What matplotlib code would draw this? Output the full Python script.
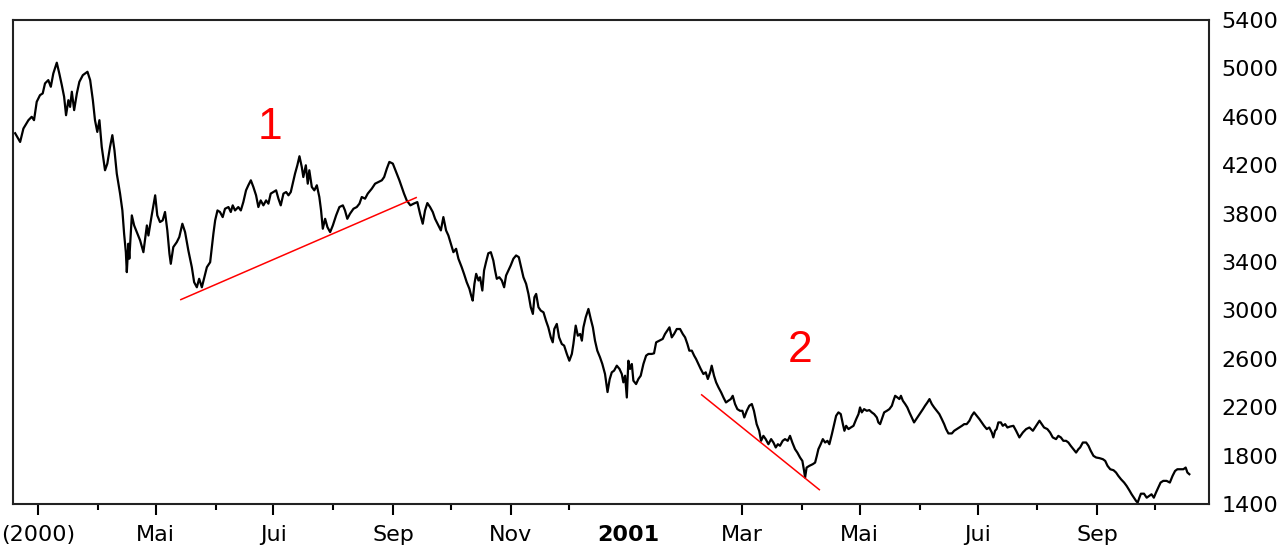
import matplotlib.pyplot as plt
import pandas as pd

# index closes, x = days since 2000-03-01
days_a = [-11.9, -9.3, -7.6, -5.0, -3.3, -2.1, -0.7, 1.0, 2.4, 3.6,
          5.3, 6.6, 7.9, 9.7, 11.0, 12.3, 13.5, 14.5, 15.7, 16.6,
          17.5, 18.7, 20.1, 21.4, 23.2, 25.6, 27.0, 28.4, 29.5, 30.7,
          31.8, 33.0, 34.7, 35.9, 37.3, 38.5, 39.6, 40.8, 42.5, 43.7,
          44.6, 45.5, 46.0, 46.8, 47.3, 48.6, 49.8, 51.2, 52.9, 54.6,
          56.4, 57.2, 58.9, 60.7, 61.8, 63.2, 64.6, 65.8, 67.0, 68.1,
          68.8, 70.1, 71.9, 73.2, 74.8, 76.2, 77.9, 79.7, 80.9, 82.3,
          83.5, 84.9, 86.2, 87.5, 89.2, 90.9, 91.8, 93.0]
close_a = [4464, 4392, 4503, 4572, 4600, 4572, 4724, 4779, 4793, 4876,
           4903, 4848, 4958, 5047, 4958, 4862, 4765, 4613, 4737, 4682,
           4807, 4655, 4793, 4889, 4944, 4972, 4903, 4737, 4572, 4475,
           4572, 4351, 4158, 4213, 4351, 4448, 4323, 4130, 3965, 3826,
           3633, 3481, 3316, 3551, 3427, 3785, 3702, 3647, 3578, 3481,
           3702, 3619, 3785, 3951, 3785, 3730, 3744, 3813, 3661, 3468,
           3385, 3523, 3564, 3606, 3716, 3647, 3495, 3357, 3233, 3191,
           3261, 3191, 3274, 3357, 3398, 3636, 3744, 3826]

days_b = [94.3, 95.7, 96.9, 98.7, 99.9, 100.9, 102.1, 103.8, 105.1, 106.4,
          107.8, 109.0, 110.3, 111.6, 113.0, 114.2, 115.4, 116.8, 118.2, 119.4,
          120.6, 122.0, 123.4, 124.6, 125.8, 127.2, 128.6, 129.8, 131.0, 132.0,
          133.2, 134.4, 135.5, 136.7, 137.5, 138.8, 139.8, 140.6, 141.9, 143.2,
          144.5, 145.8, 146.7, 147.6, 148.8, 150.0, 151.4, 152.8, 154.5, 156.2,
          158.0, 159.1, 160.3, 161.7, 163.5, 165.2, 166.6, 167.8, 169.5, 170.9,
          173.0, 174.7, 176.4, 178.2, 179.4, 180.8, 182.1, 183.9, 185.6, 187.3,
          188.5, 189.7, 191.1]
close_b = [3813, 3771, 3840, 3854, 3813, 3868, 3826, 3854, 3826, 3895,
           3992, 4034, 4075, 4020, 3951, 3854, 3909, 3868, 3909, 3882,
           3965, 3978, 3992, 3923, 3868, 3965, 3978, 3951, 3978, 4047,
           4130, 4199, 4274, 4185, 4102, 4199, 4047, 4158, 4020, 3992,
           4034, 3937, 3826, 3675, 3757, 3688, 3647, 3702, 3785, 3854,
           3868, 3826, 3757, 3799, 3840, 3854, 3882, 3937, 3923, 3965,
           4006, 4047, 4061, 4075, 4102, 4172, 4227, 4213, 4144, 4075,
           4020, 3965, 3909]

days_c = [193.0, 194.7, 196.6, 198.0, 199.4, 200.6, 201.8, 203.2, 204.6, 205.8,
          207.5, 208.8, 210.1, 211.5, 212.7, 214.0, 215.3, 216.7, 217.9, 219.6,
          220.8, 222.2, 223.6, 224.5, 225.3, 226.2, 227.1, 228.3, 229.1, 230.3,
          231.2, 232.2, 233.4, 234.7, 236.0, 236.9, 237.8, 239.1, 240.4, 241.6,
          242.6, 243.8, 245.0, 246.4, 247.8, 249.2, 250.4, 251.6, 253.0, 254.2,
          255.4, 256.5, 257.3, 258.2, 259.4, 260.6, 262.0, 263.3, 264.5, 265.8,
          266.8, 267.6, 268.9, 270.1, 271.5, 272.7, 274.1, 275.4, 276.7, 277.5,
          278.7, 279.8, 281.0, 281.9, 282.7, 283.9, 285.3, 286.5, 287.6, 288.7,
          289.9, 291.3, 292.5, 293.9, 295.2, 296.3]
close_c = [3868, 3882, 3895, 3799, 3716, 3826, 3887, 3854, 3813, 3757,
           3702, 3661, 3771, 3661, 3619, 3551, 3481, 3509, 3427, 3357,
           3302, 3233, 3178, 3123, 3081, 3219, 3302, 3247, 3274, 3164,
           3330, 3398, 3472, 3481, 3412, 3330, 3261, 3274, 3247, 3191,
           3288, 3330, 3371, 3427, 3454, 3440, 3357, 3274, 3219, 3136,
           3026, 2971, 3109, 3136, 3026, 2998, 2984, 2915, 2860, 2777,
           2736, 2846, 2888, 2777, 2722, 2709, 2640, 2584, 2640, 2722,
           2874, 2791, 2805, 2750, 2860, 2943, 3012, 2929, 2860, 2750,
           2667, 2612, 2557, 2474, 2325, 2430]

days_d = [297.4, 298.6, 300.0, 301.4, 302.6, 303.4, 304.3, 305.2, 306.0, 306.9,
          307.8, 308.6, 310.0, 311.2, 312.4, 313.8, 315.2, 316.4, 318.1, 319.3,
          320.4, 322.1, 323.8, 325.0, 326.2, 327.3, 328.5, 329.7, 331.1, 332.8,
          334.2, 335.4, 336.6, 337.6, 338.9, 340.1, 341.1, 342.3, 343.5, 344.9,
          346.1, 347.2, 348.4, 349.2, 350.4, 351.5, 352.7, 354.1, 355.3, 356.6,
          357.8, 359.1, 360.1, 361.3, 362.5, 363.9, 365.1, 366.1, 367.4, 368.7,
          370.0, 371.1, 372.5, 373.8, 374.8, 376.0, 377.2, 378.6, 380.0, 381.2,
          382.4, 383.5, 384.6, 386.0, 387.2, 388.6, 389.8, 391.0, 392.4, 393.6,
          395.0, 396.2, 397.1, 397.6, 398.4, 399.8]
close_d = [2488, 2502, 2543, 2516, 2474, 2405, 2460, 2280, 2584, 2516,
           2557, 2419, 2391, 2433, 2460, 2557, 2626, 2640, 2640, 2645,
           2736, 2750, 2764, 2805, 2833, 2860, 2777, 2805, 2846, 2846,
           2805, 2777, 2722, 2667, 2667, 2626, 2598, 2557, 2516, 2474,
           2488, 2433, 2488, 2543, 2460, 2405, 2364, 2322, 2280, 2239,
           2253, 2267, 2294, 2226, 2184, 2170, 2170, 2115, 2170, 2212,
           2226, 2170, 2060, 2005, 1922, 1963, 1936, 1894, 1936, 1908,
           1867, 1894, 1881, 1922, 1936, 1922, 1963, 1908, 1853, 1825,
           1784, 1756, 1673, 1618, 1701, 1715]

days_e = [401.6, 402.8, 403.7, 404.5, 405.7, 406.8, 408.0, 409.2, 410.2, 411.5,
          412.7, 413.7, 414.9, 416.1, 417.2, 418.0, 418.9, 420.1, 421.3, 422.7,
          424.1, 425.3, 426.1, 427.0, 428.2, 429.6, 430.9, 432.2, 433.4, 434.8,
          435.6, 436.5, 437.4, 438.6, 440.0, 441.3, 442.6, 443.4, 444.3, 445.5,
          446.5, 447.3, 448.3, 449.5, 450.6, 451.7, 452.9, 454.1, 455.2, 456.4,
          457.6, 458.7, 459.8, 461.0, 462.1, 463.3, 464.5, 465.9, 467.2, 468.5,
          469.7, 470.7, 471.9, 473.7, 474.9, 476.3, 477.6, 478.9, 480.1, 481.4,
          482.8, 484.0, 485.2, 486.6, 488.0, 489.2, 490.4, 491.8, 493.1, 494.4,
          495.2, 496.1, 496.9, 497.8, 499.1, 500.1, 501.3, 502.5, 503.9]
close_e = [1729, 1742, 1798, 1853, 1894, 1936, 1908, 1922, 1894, 1977,
           2060, 2129, 2157, 2143, 2060, 2005, 2046, 2019, 2032, 2046,
           2101, 2143, 2198, 2157, 2184, 2170, 2176, 2157, 2143, 2115,
           2074, 2060, 2101, 2157, 2170, 2184, 2212, 2253, 2294, 2280,
           2267, 2294, 2253, 2226, 2198, 2157, 2115, 2074, 2101, 2129,
           2157, 2184, 2212, 2239, 2267, 2226, 2198, 2170, 2143, 2101,
           2060, 2019, 1983, 1983, 2005, 2019, 2032, 2046, 2060, 2060,
           2088, 2129, 2157, 2129, 2101, 2074, 2046, 2019, 2032, 1991,
           1950, 2005, 2019, 2074, 2074, 2046, 2060, 2032, 2040]

days_f = [505.6, 507.0, 508.7, 510.5, 512.2, 513.9, 515.7, 517.4, 519.1, 520.3,
          521.5, 523.2, 524.6, 526.0, 527.7, 528.9, 530.2, 531.5, 532.9, 534.1,
          535.3, 536.7, 538.1, 539.3, 540.2, 541.6, 543.3, 544.5, 545.7, 547.1,
          548.5, 550.2, 552.0, 553.2, 554.4, 555.8, 557.5, 558.8, 560.0, 561.4,
          563.0, 564.3, 565.7, 566.9, 568.1, 569.2, 570.0, 570.9, 571.7, 573.3,
          574.7, 576.0, 577.2, 578.4, 579.5, 580.7, 581.9, 583.3, 585.0, 586.7,
          588.1, 589.4, 590.6, 592.3, 593.7, 594.9, 595.8, 596.8]
close_f = [2046, 2005, 1950, 1991, 2019, 2032, 2005, 2046, 2088, 2060,
           2032, 2019, 1991, 1950, 1936, 1963, 1950, 1922, 1922, 1908,
           1881, 1853, 1825, 1853, 1867, 1908, 1908, 1881, 1839, 1798,
           1784, 1779, 1770, 1756, 1715, 1687, 1679, 1660, 1632, 1604,
           1577, 1549, 1513, 1480, 1452, 1425, 1411, 1452, 1485, 1485,
           1452, 1466, 1480, 1452, 1494, 1535, 1577, 1591, 1591, 1577,
           1632, 1673, 1687, 1687, 1687, 1701, 1660, 1646]

major_dates = ['2000-03-01', '2000-05-01', '2000-07-01', '2000-09-01', '2000-11-01',
               '2001-01-01', '2001-03-01', '2001-05-01', '2001-07-01', '2001-09-01']
major_labels = ['(2000)', 'Mai', 'Jui', 'Sep', 'Nov', '2001', 'Mar', 'Mai', 'Jui', 'Sep']
minor_dates = ['2000-04-01', '2000-06-01', '2000-08-01', '2000-10-01', '2000-12-01',
               '2001-04-01', '2001-06-01', '2001-08-01', '2001-10-01']

# red support / trend lines
trend1_dates = ['2000-05-14', '2000-09-13']
trend1_vals = [3089, 3932]
trend2_dates = ['2001-02-08', '2001-04-10']
trend2_vals = [2302, 1518]

base = pd.Timestamp('2000-03-01')


def to_days(dates):
    return [(pd.Timestamp(s) - base).days for s in dates]


days = days_a + days_b + days_c + days_d + days_e + days_f
close = close_a + close_b + close_c + close_d + close_e + close_f

fig = plt.figure(figsize=(12.87, 5.52), dpi=100)
ax = fig.add_axes([0.0101, 0.0870, 0.9293, 0.8768])

ax.plot(days, close, color='black', lw=1.6)
ax.plot(to_days(trend1_dates), trend1_vals, color='#ff0000', lw=1.1)
ax.plot(to_days(trend2_dates), trend2_vals, color='#ff0000', lw=1.1)

ax.text(to_days(['2000-06-29'])[0], 4510, '1', color='#ff0000', fontsize=32,
        family='Liberation Sans', ha='center', va='center')
ax.text(to_days(['2001-03-31'])[0], 2665, '2', color='#ff0000', fontsize=32,
        family='Liberation Sans', ha='center', va='center')

ax.set_xlim(-13, 607)
ax.set_ylim(1400, 5400)

ax.set_xticks(to_days(major_dates))
ax.set_xticklabels(major_labels)
ax.set_xticks(to_days(minor_dates), minor=True)
ax.tick_params(axis='x', which='major', direction='out', length=8, width=1.5,
               labelsize=16, pad=7)
ax.tick_params(axis='x', which='minor', direction='out', length=4, width=1.5)
for lab in ax.get_xticklabels():
    if lab.get_text() == '2001':
        lab.set_fontweight('bold')
# no tick mark drawn under the year label
ax.xaxis.get_major_ticks()[5].tick1line.set_visible(False)

ax.yaxis.tick_right()
ax.set_yticks(range(1400, 5401, 400))
ax.tick_params(axis='y', which='both', length=0, labelsize=16, pad=9)

for sp in ax.spines.values():
    sp.set_linewidth(1.5)
    sp.set_color('#222222')

fig.savefig('out.png', dpi=100, facecolor='white')
